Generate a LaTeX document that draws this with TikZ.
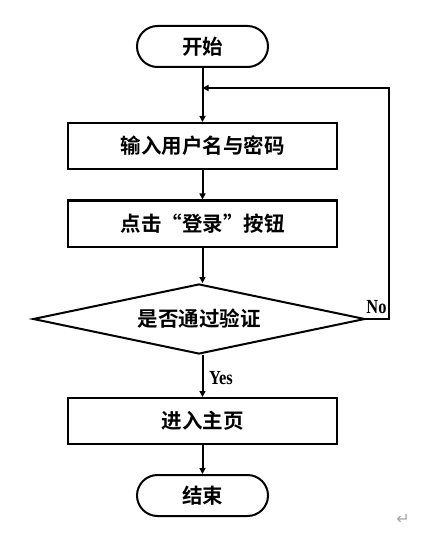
\documentclass[tikz,border=0pt]{standalone}
\usepackage{fontspec}
\newfontfamily\cjk{Noto Sans CJK SC}[BoldFont={* Bold}]
\newfontfamily\lat{Liberation Serif}[FakeStretch=0.82]
\newfontfamily\sym{DejaVu Sans}
\usetikzlibrary{shapes.geometric,arrows.meta}
\begin{document}
\begin{tikzpicture}[x=1pt,y=-1pt,
  every node/.style={font=\cjk\bfseries\fontsize{20.5}{20.5}\selectfont},
  term/.style={draw,line width=2pt,rounded corners=20.5pt,minimum width=131pt,minimum height=41pt,inner sep=0pt},
  proc/.style={draw,line width=2pt,minimum width=269pt,minimum height=46pt,inner sep=0pt},
  dec/.style={draw,line width=2pt,diamond,aspect=4.75,minimum width=332pt,minimum height=70pt,inner sep=0pt},
  conn/.style={line width=2pt,-{Triangle[length=6pt,width=6pt]}},
  lbl/.style={font=\lat\bfseries\fontsize{20}{20}\selectfont,inner sep=0pt}]
\useasboundingbox (0,0) rectangle (438,545);
\node[term] (start) at (202.5,46.5) {开始};
\node[proc] (in) at (202.5,146) {输入用户名与密码};
\node[proc] (click) at (202.5,223.5) {点击“登录”按钮};
\node[dec] (check) at (199,319) {是否通过验证};
\node[proc] (home) at (202.5,421) {进入主页};
\node[term] (end) at (202.5,495.5) {结束};
\coordinate (j) at (202.5,88);
\coordinate (r) at (389,319);
\coordinate (rt) at (389,88);
\draw[conn] (start.south) -- (in.north);
\draw[conn] (in.south) -- (click.north);
\draw[conn] (click.south) -- (check.north -| click.south);
\draw[conn] (check.south -| home.north) -- (home.north);
\draw[conn] (home.south) -- (end.north);
\draw[conn] (check.east) -- (r) -- (rt) -- (j);
\node[lbl] (no) at (376.5,307) {No};
\node[lbl] (yes) at (221,378) {Yes};
\node[font=\sym\fontsize{16}{16}\selectfont,text=gray!70,inner sep=0pt] (pm) at (403,519) {↵};
\end{tikzpicture}
\end{document}
